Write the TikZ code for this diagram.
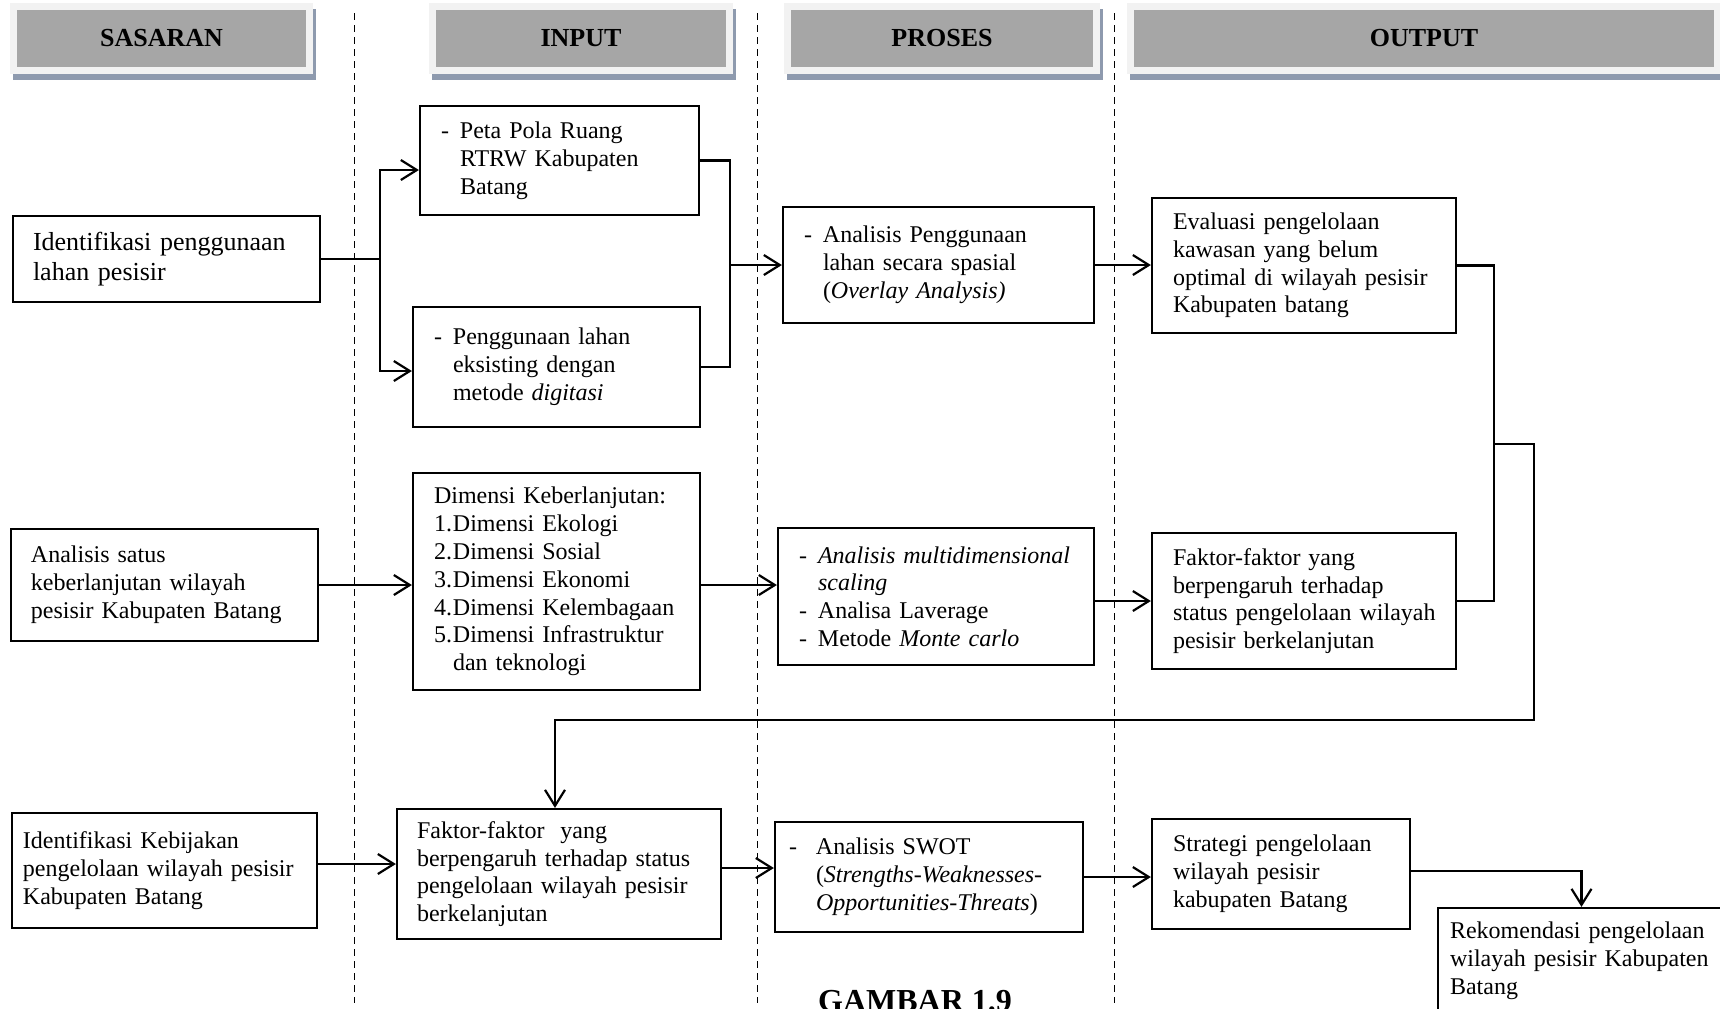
\documentclass[tikz,border=0pt]{standalone}
\usepackage{fontspec}
\setmainfont{Liberation Serif}
\usetikzlibrary{arrows.meta,shadows}

\definecolor{hdrfill}{HTML}{A6A6A6}
\definecolor{hdrframe}{HTML}{F2F2F2}
\definecolor{hdrshade}{HTML}{8E9AAE}

\newcommand{\dsh}{\makebox[9.5pt][l]{-}}
\newcommand{\ind}{\hspace*{9.5pt}}
\newcommand{\nmr}[1]{\makebox[9.5pt][l]{#1}}

\begin{document}
\begin{tikzpicture}[x=0.5pt, y=-0.5pt,
  hdr/.style={fill=hdrfill, draw=hdrframe, line width=3.5pt, minimum height=31.75pt,
    font=\bfseries\fontsize{13}{15}\selectfont,
    general shadow={draw=hdrshade, fill=hdrshade, line width=3.5pt, shadow xshift=1.5pt, shadow yshift=-3pt}},
  box/.style={draw, line width=1.1pt, align=left, inner ysep=0pt, inner xsep=10.5pt,
    font=\fontsize{12}{13.9}\selectfont, execute at begin node={\rightskip=-20pt plus 1fil}},
  bsize/.style n args={3}{minimum width=#1, minimum height=#2, inner xsep=#3, text width=#1-2*#3},
  arr/.style={-{Straight Barb[length=8pt,width=10pt]}, line width=1.1pt},
  sep/.style={dash pattern=on 3.5pt off 2.5pt, line width=0.5pt}
]
\useasboundingbox (0,0) rectangle (1720,1008);

% column separators
\foreach \xs in {354,757,1114}
  \draw[sep] (\xs,13) -- (\xs,1003);

% headers
\node[hdr, minimum width=148pt] (hsas) at (161.5,38.25) {SASARAN};
\node[hdr, minimum width=148.5pt] (hinp) at (581,38.25) {INPUT};
\node[hdr, minimum width=154.5pt] (hpro) at (942,38.25) {PROSES};
\node[hdr, minimum width=293.5pt] (hout) at (1424,38.25) {OUTPUT};

% row 1
\node[box, bsize={153.5pt}{43pt}{10pt}, font=\fontsize{13}{14.9}\selectfont] (sas1) at (166.5,259)
  {Identifikasi penggunaan\\lahan pesisir};
\node[box, bsize={139.5pt}{54.5pt}{10.5pt}] (in1) at (559.5,160.5)
  {\dsh Peta Pola Ruang\\\ind RTRW Kabupaten\\\ind Batang};
\node[box, bsize={143.5pt}{60pt}{10.5pt}] (in2) at (556.5,367)
  {\dsh Penggunaan lahan\\\ind eksisting dengan\\\ind metode \textit{digitasi}};
\node[box, bsize={155.5pt}{58pt}{10.5pt}] (pr1) at (938.5,265)
  {\dsh Analisis Penggunaan\\\ind lahan secara spasial\\\ind (\textit{Overlay Analysis)}};
\node[box, bsize={152pt}{67.5pt}{10.5pt}] (out1) at (1304,265.5)
  {Evaluasi pengelolaan\\kawasan yang belum\\optimal di wilayah pesisir\\Kabupaten batang};

% row 2
\node[box, bsize={153.5pt}{56pt}{10pt}] (sas2) at (164.5,585)
  {Analisis satus\\keberlanjutan wilayah\\pesisir Kabupaten Batang};
\node[box, bsize={143.5pt}{108.5pt}{10.5pt}] (in3) at (556.5,581.5)
  {Dimensi Keberlanjutan:\\\nmr{1.}Dimensi Ekologi\\\nmr{2.}Dimensi Sosial\\\nmr{3.}Dimensi Ekonomi\\
   \nmr{4.}Dimensi Kelembagaan\\\nmr{5.}\makebox[113.5pt][s]{Dimensi Infrastruktur}\\\ind dan teknologi};
\node[box, bsize={158pt}{68.5pt}{10.5pt}] (pr2) at (936,596.5)
  {\dsh\makebox[128.5pt][s]{\itshape Analisis multidimensional}\\\ind\textit{scaling}\\
   \dsh Analisa Laverage\\\dsh Metode \textit{Monte carlo}};
\node[box, bsize={152pt}{68pt}{10.5pt}] (out2) at (1304,601)
  {Faktor-faktor yang\\berpengaruh terhadap\\status pengelolaan wilayah\\pesisir berkelanjutan};

% row 3
\node[box, bsize={152.5pt}{57.5pt}{5.5pt}] (sas3) at (164.5,870.5)
  {Identifikasi Kebijakan\\pengelolaan wilayah pesisir\\Kabupaten Batang};
\node[box, bsize={162pt}{65pt}{10pt}] (in4) at (559,874)
  {Faktor-faktor\ \ yang\\berpengaruh terhadap status\\pengelolaan wilayah pesisir\\berkelanjutan};
\node[box, bsize={154pt}{55pt}{7pt}] (pr3) at (929,877)
  {\makebox[13.5pt][l]{-}Analisis SWOT\\\hspace*{13.5pt}(\textit{Strengths-Weaknesses-}\\
   \hspace*{13.5pt}\textit{Opportunities-Threats})};
\node[box, bsize={129pt}{55pt}{10.5pt}] (out3) at (1281,874)
  {Strategi pengelolaan\\wilayah pesisir\\kabupaten Batang};
\node[box, bsize={143.5pt}{53pt}{6pt}] (out4) at (1581.5,961)
  {Rekomendasi pengelolaan\\wilayah pesisir Kabupaten\\Batang};

\node[font=\bfseries\fontsize{16}{19}\selectfont, inner sep=0pt, anchor=north] (cap) at (915,990) {GAMBAR 1.9};

% connectors
\draw[arr] (sas1.east) -- ++(59,0) |- ([yshift=-4.75pt]in1.west);
\draw[arr] (sas1.east) -- ++(59,0) |- ([yshift=-2pt]in2.west);
\draw[line width=1.1pt] (in1.east) -- ++(30,0) coordinate (jin) |- (in2.east);
\draw[arr] (jin |- pr1.west) -- (pr1.west);
\draw[arr] (pr1.east) -- (pr1.east -| out1.west);
\draw[line width=1.1pt] (out1.east) -- ++(37,0) coordinate (jout) |- (out2.east);
\draw[arr] ([yshift=-89.25pt]jout) -- ++(40,0) -- ++(0,276) -| ([xshift=-2pt]in4.north);
\draw[arr] (sas2.east) -- (sas2.east -| in3.west);
\draw[arr] ([yshift=-1.75pt]in3.east) -- ([yshift=-1.75pt]in3.east -| pr2.west);
\draw[arr] (out2.west -| pr2.east) -- (out2.west);
\draw[arr] ([yshift=3.25pt]sas3.east) -- ([yshift=3.25pt]sas3.east -| in4.west);
\draw[arr] ([yshift=3pt]in4.east) -- ([yshift=3pt]in4.east -| pr3.west);
\draw[arr] (pr3.east) -- (pr3.east -| out3.west);
\draw[arr] ([yshift=1.5pt]out3.east) -| (out4.north);
\end{tikzpicture}
\end{document}
